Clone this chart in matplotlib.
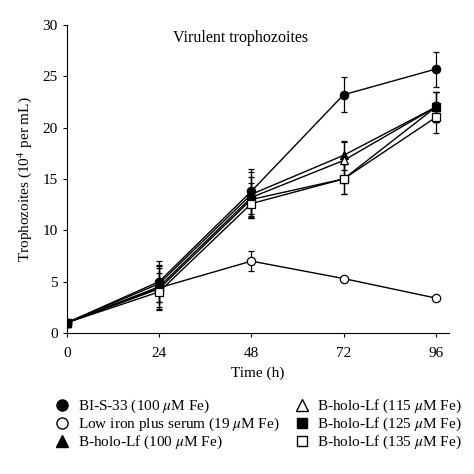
import numpy as np
import matplotlib
matplotlib.use('Agg')
import matplotlib.pyplot as plt

plt.rcParams['font.family'] = ['Liberation Serif', 'DejaVu Serif']
plt.rcParams['mathtext.fontset'] = 'stix'

time = [0, 24, 48, 72, 96]

labels = ['BI-S-33 (100 $\\mu$M Fe)',
          'Low iron plus serum (19 $\\mu$M Fe)',
          'B-holo-Lf (100 $\\mu$M Fe)',
          'B-holo-Lf (115 $\\mu$M Fe)',
          'B-holo-Lf (125 $\\mu$M Fe)',
          'B-holo-Lf (135 $\\mu$M Fe)']

bis33 = [1.0, 5.0, 13.8, 23.2, 25.7]
bis33_err = [0.0, 2.0, 2.2, 1.7, 1.7]
lowiron = [1.0, 4.4, 7.0, 5.3, 3.4]
lowiron_err = [0.0, 0.0, 1.0, 0.0, 0.0]
lf100 = [1.0, 4.8, 13.5, 17.3, 22.0]
lf100_err = [0.0, 1.8, 2.2, 1.4, 1.5]
lf115 = [1.0, 4.5, 13.2, 16.8, 22.0]
lf115_err = [0.0, 2.0, 2.0, 1.8, 1.5]
lf125 = [1.0, 4.3, 13.0, 15.0, 22.0]
lf125_err = [0.0, 2.0, 1.6, 1.5, 1.5]
lf135 = [1.0, 4.0, 12.6, 15.0, 21.0]
lf135_err = [0.0, 1.8, 1.4, 1.5, 1.5]

series = [bis33, lowiron, lf100, lf115, lf125, lf135]
errors = [bis33_err, lowiron_err, lf100_err, lf115_err, lf125_err, lf135_err]
markers = ['o', 'o', '^', '^', 's', 's']
faces = ['black', 'white', 'black', 'white', 'black', 'white']
sizes = [6, 6, 6, 6, 5.5, 6]

fig = plt.figure(figsize=(4.74, 4.74), dpi=100)
ax = fig.add_axes([0.141, 0.2975, 0.807, 0.65])

# low iron first, open markers over filled ones, BI-S-33 on top
order = [1, 2, 3, 4, 5, 0]
for i in order:
    ax.errorbar(time, series[i], yerr=errors[i], color='black', lw=1.0,
                marker=markers[i], mfc=faces[i], mec='black', ms=sizes[i],
                mew=0.9, capsize=2, elinewidth=0.9, capthick=0.9, zorder=3)
hs = []
for i in range(6):
    h, = ax.plot([], [], ls='none', marker=markers[i], mfc=faces[i],
                 mec='black', ms=8 if markers[i] != 's' else 7, mew=1.0)
    hs.append(h)

ax.set_xlim(0, 99.5)
ax.set_ylim(0, 30)
ax.set_xticks(time)
ax.set_yticks([0, 5, 10, 15, 20, 25, 30])
ax.spines['top'].set_visible(False)
ax.spines['right'].set_visible(False)
ax.tick_params(direction='out', length=3, width=0.8, labelsize=11)
ax.tick_params(axis='x', pad=7)
ax.set_xlabel('Time (h)', fontsize=11, labelpad=5)
ax.set_ylabel('Trophozoites (10$^4$ per mL)', fontsize=11, labelpad=6)
ax.text(0.455, 0.957, 'Virulent trophozoites', transform=ax.transAxes,
        ha='center', va='center', fontsize=11.5)

fig.legend(hs, labels, loc='upper center', bbox_to_anchor=(0.545, 0.19),
           ncol=2, frameon=False, fontsize=11, handlelength=1.0,
           handletextpad=0.5, columnspacing=1.0, labelspacing=0.05)

fig.savefig('out.png', dpi=100)
